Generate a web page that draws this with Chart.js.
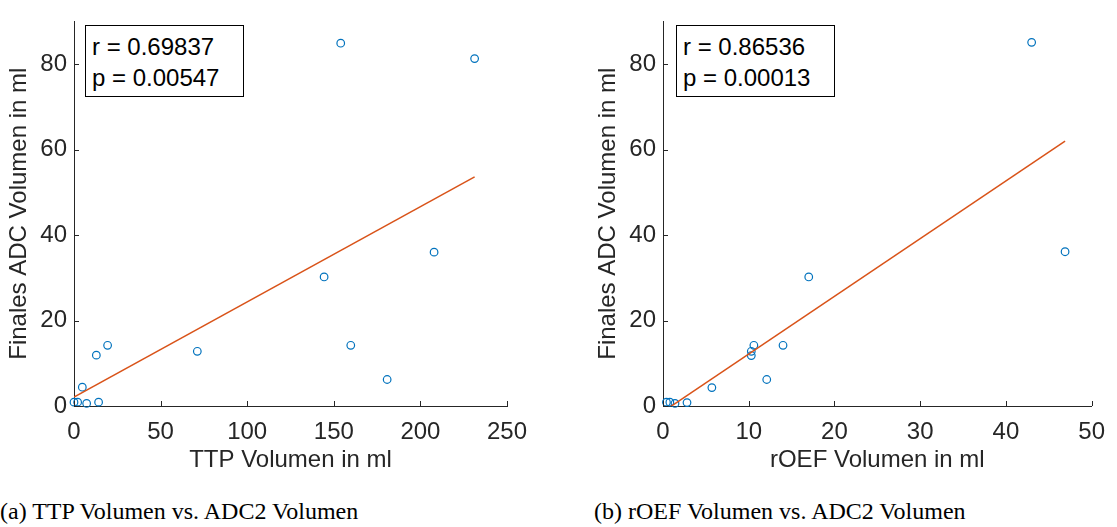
<!DOCTYPE html>
<html lang="de">

<head>
  <meta charset="UTF-8">
  <script src="https://cdn.jsdelivr.net/npm/chart.js"></script>
  <title>Volumen Korrelation</title>
  <style>
    body { margin: 0; background: #fff; width: 1117px; height: 527px; overflow: hidden; position: relative; }
    .plot { position: absolute; top: 0; height: 480px; }
    .stats {
      position: absolute; top: 25px; width: 159px; height: 72px; box-sizing: border-box;
      border: 1px solid #000; background: #fff; padding: 5px 0 0 6px;
      font: 24px/31px "Liberation Sans", Arial, sans-serif; color: #000; z-index: 2;
    }
    .caption {
      position: absolute; top: 499px; font: 24px/24px "Liberation Serif", "Times New Roman", serif;
      color: #000; white-space: nowrap;
    }
  </style>
</head>

<body>

  <div class="plot" style="left:0; width:540px;"><canvas id="chartTTP"></canvas></div>
  <div class="plot" style="left:589px; width:528px;"><canvas id="chartOEF"></canvas></div>

  <div class="stats" style="left:85px;">r = 0.69837<br>p = 0.00547</div>
  <div class="stats" style="left:676px;">r = 0.86536<br>p = 0.00013</div>

  <div class="caption" style="left:0;">(a) TTP Volumen vs. ADC2 Volumen</div>
  <div class="caption" style="left:594px;">(b) rOEF Volumen vs. ADC2 Volumen</div>

  <script>
    // Werte
    const ttpVol = [0.0, 2.1, 7.3, 14.2, 4.8, 12.9, 19.4, 71.2, 144.4, 159.8, 180.8, 207.9, 154.0, 231.3];
    const adcVolA = [0.9, 0.9, 0.6, 0.9, 4.4, 11.9, 14.2, 12.8, 30.2, 14.2, 6.2, 36.0, 84.9, 81.3];

    const roefVol = [0.4, 0.8, 1.4, 2.8, 5.7, 10.3, 10.3, 10.6, 14.0, 12.1, 17.0, 46.9, 43.0];
    const adcVolB = [0.9, 0.9, 0.6, 0.8, 4.3, 11.8, 12.8, 14.2, 14.2, 6.2, 30.2, 36.1, 85.1];

    // Regressionsgerade (Endpunkte)
    const fitAX = [0.0, 231.3];
    const fitAY = [2.1, 53.6];
    const fitBX = [0.4, 46.9];
    const fitBY = [-0.8, 62.0];

    const ttpTicks = [0, 50, 100, 150, 200, 250];
    const roefTicks = [0, 10, 20, 30, 40, 50];
    const adcTicks = [0, 20, 40, 60, 80];

    const axisColor = '#262626';
    Chart.defaults.font.family = '"Liberation Sans", Arial, sans-serif';
    Chart.defaults.font.size = 24;
    Chart.defaults.color = axisColor;

    // MATLAB-artige Ticks nach innen
    const innerTicks = {
      id: 'innerTicks',
      afterDraw(chart) {
        const ctx = chart.ctx;
        const x = chart.scales.x, y = chart.scales.y;
        ctx.save();
        ctx.strokeStyle = axisColor;
        ctx.lineWidth = 1;
        ctx.beginPath();
        x.ticks.forEach(t => {
          const px = Math.round(x.getPixelForValue(t.value)) + 0.5;
          ctx.moveTo(px, y.bottom);
          ctx.lineTo(px, y.bottom - 5);
        });
        y.ticks.forEach(t => {
          const py = Math.round(y.getPixelForValue(t.value)) + 0.5;
          ctx.moveTo(x.left, py);
          ctx.lineTo(x.left + 5, py);
        });
        ctx.stroke();
        ctx.restore();
      }
    };

    function toPoints(xs, ys) {
      return xs.map((v, i) => ({ x: v, y: ys[i] }));
    }

    function drawChart(id, xs, ys, fx, fy, xTicks, xLabel, padRight) {
      new Chart(document.getElementById(id), {
        type: 'scatter',
        data: {
          datasets: [{
            data: toPoints(fx, fy),
            showLine: true,
            borderColor: '#D95319',
            borderWidth: 1.5,
            pointRadius: 0,
            clip: 0
          }, {
            data: toPoints(xs, ys),
            pointStyle: 'circle',
            pointRadius: 3.8,
            borderWidth: 1.2,
            borderColor: '#0072BD',
            backgroundColor: 'rgba(0,0,0,0)',
            clip: false
          }]
        },
        options: {
          responsive: true,
          maintainAspectRatio: false,
          animation: false,
          layout: { padding: { top: 13.5, right: padRight, bottom: 0, left: 0 } },
          plugins: { legend: { display: false }, tooltip: { enabled: false } },
          scales: {
            x: {
              type: 'linear',
              min: xTicks[0],
              max: xTicks[xTicks.length - 1],
              afterBuildTicks: s => { s.ticks = xTicks.map(v => ({ value: v })); },
              afterFit: s => { s.height = 74; },
              grid: { display: true, drawOnChartArea: false, drawTicks: false },
              border: { display: true, color: axisColor, width: 1 },
              ticks: { padding: 12, maxRotation: 0, color: axisColor },
              title: { display: true, text: xLabel, color: axisColor, padding: { top: 0, bottom: 5 } }
            },
            y: {
              type: 'linear',
              min: 0,
              max: 90,
              afterBuildTicks: s => { s.ticks = adcTicks.map(v => ({ value: v })); },
              afterFit: s => { s.width = 74; },
              grid: { display: true, drawOnChartArea: false, drawTicks: false },
              border: { display: true, color: axisColor, width: 1 },
              ticks: { padding: 7, color: axisColor },
              title: { display: true, text: 'Finales ADC Volumen in ml', color: axisColor, padding: { top: 5, bottom: 0 } }
            }
          }
        },
        plugins: [innerTicks]
      });
    }

    drawChart('chartTTP', ttpVol, adcVolA, fitAX, fitAY, ttpTicks, 'TTP Volumen in ml', 33);
    drawChart('chartOEF', roefVol, adcVolB, fitBX, fitBY, roefTicks, 'rOEF Volumen in ml', 20);
  </script>

</body>

</html>
